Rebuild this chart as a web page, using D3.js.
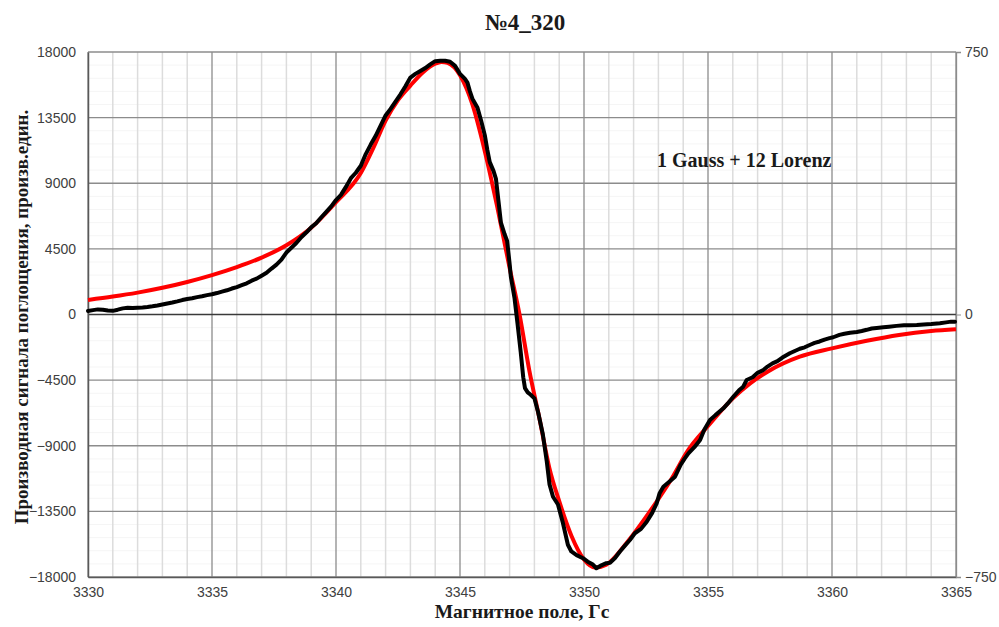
<!DOCTYPE html>
<html>
<head>
<meta charset="utf-8">
<script src="https://cdn.jsdelivr.net/npm/d3@7"></script>
<style>
  html, body { margin: 0; padding: 0; background: #fff; }
  svg { display: block; }
  .tick text { font-family: "Liberation Sans", Arial, sans-serif; font-size: 14px; fill: #404040; }
  .ttl { font-family: "Liberation Serif", "Times New Roman", serif; font-weight: bold; fill: #1a1a1a; }
</style>
</head>
<body>
<svg id="chart" width="999" height="627"></svg>
<script>
// Magnetic field, G — experimental spectrum
const fieldX = [
  3330.0,3330.2,3330.4,3330.6,3330.8,3331.0,3331.2,3331.4,3331.6,3331.8,
  3332.0,3332.2,3332.4,3332.6,3332.8,3333.0,3333.2,3333.4,3333.6,3333.8,
  3334.0,3334.2,3334.4,3334.6,3334.8,3335.0,3335.2,3335.4,3335.6,3335.8,
  3336.0,3336.2,3336.4,3336.6,3336.8,3337.0,3337.2,3337.4,3337.6,3337.8,
  3338.0,3338.2,3338.4,3338.6,3338.8,3339.0,3339.2,3339.4,3339.6,3339.8,
  3340.0,3340.2,3340.4,3340.6,3340.8,3341.0,3341.2,3341.4,3341.6,3341.8,
  3342.0,3342.2,3342.4,3342.6,3342.8,3343.0,3343.2,3343.4,3343.6,3343.8,
  3344.0,3344.2,3344.4,3344.6,3344.8,3345.0,3345.2,3345.3,3345.4,3345.5,
  3345.7,3345.85,3346.0,3346.1,3346.2,3346.35,3346.45,3346.55,3346.65,3346.8,
  3346.9,3347.0,3347.05,3347.2,3347.32,3347.45,3347.55,3347.62,3347.73,3347.85,
  3348.0,3348.15,3348.34,3348.5,3348.61,3348.75,3348.95,3349.15,3349.35,3349.49,
  3349.7,3349.96,3350.15,3350.36,3350.5,3350.7,3350.9,3351.05,3351.25,3351.45,
  3351.65,3351.85,3352.05,3352.3,3352.53,3352.75,3352.93,3353.05,3353.2,3353.45,
  3353.67,3353.9,3354.05,3354.21,3354.45,3354.68,3354.85,3355.08,3355.3,3355.62,
  3355.8,3356.02,3356.25,3356.42,3356.56,3356.8,3357.0,3357.23,3357.4,3357.6,
  3357.8,3358.0,3358.3,3358.5,3358.7,3358.9,3359.1,3359.3,3359.5,3359.7,
  3359.9,3360.05,3360.3,3360.5,3360.73,3361.0,3361.2,3361.4,3361.6,3361.8,
  3362.07,3362.3,3362.6,3362.9,3363.1,3363.42,3363.7,3364.0,3364.35,3364.6,
  3364.8,3364.96
];
// Derivative of absorption signal, arb. units — experimental
const signalY = [
  240,300,350,330,280,250,330,420,460,440,
  470,480,510,560,620,690,760,820,900,990,
  1060,1110,1190,1250,1330,1390,1470,1570,1660,1780,
  1880,2010,2140,2320,2460,2660,2860,3150,3420,3760,
  4250,4580,4900,5300,5620,5980,6260,6650,7020,7400,
  7850,8200,8750,9350,9720,10200,11000,11650,12250,12950,
  13650,14100,14600,15100,15650,16250,16500,16700,16900,17150,
  17370,17400,17400,17330,17050,16500,16150,15900,15300,14800,
  14200,13300,12300,11300,10450,9850,9300,7800,6300,5500,
  5050,3500,2600,1100,-640,-2600,-4300,-5050,-5340,-5500,
  -5750,-6700,-8210,-10100,-11650,-12500,-13030,-14300,-15790,-16250,
  -16500,-16710,-16950,-17150,-17400,-17200,-17050,-17020,-16700,-16250,
  -15850,-15460,-15000,-14700,-14210,-13600,-12950,-12250,-11810,-11450,
  -11120,-10300,-9900,-9520,-9100,-8610,-7900,-7240,-6900,-6430,
  -6100,-5640,-5200,-4950,-4490,-4300,-4000,-3810,-3570,-3350,
  -3200,-2950,-2660,-2500,-2350,-2250,-2090,-1950,-1850,-1720,
  -1620,-1560,-1400,-1320,-1250,-1200,-1130,-1050,-960,-920,
  -880,-840,-780,-740,-740,-720,-680,-650,-600,-540,
  -490,-490
];
// Fit: 1 Gauss + 12 Lorentz lines
const fitX = [
  3330,3331,3332,3333,3334,3335,3336,3337,3338,3339,
  3340,3341,3341.5,3342,3342.5,3343,3343.5,3344,3344.25,3344.5,
  3345,3345.5,3346,3346.5,3347,3347.4,3347.8,3348.2,3348.6,3349,
  3349.5,3350,3350.45,3350.9,3351.7,3352.7,3353.5,3354.2,3355,3356,
  3356.7,3357.4,3358.7,3360,3361.4,3362.7,3364,3365
];
const fitY = [
  1000,1230,1500,1830,2230,2700,3250,3900,4750,5950,
  7700,9700,11400,13300,14700,15700,16600,17200,17320,17250,
  16400,14400,11200,7400,3200,0,-3880,-7100,-10500,-12800,
  -15200,-16800,-17350,-17150,-15700,-13400,-11350,-9300,-7650,-5750,
  -4720,-3920,-2890,-2320,-1800,-1400,-1130,-1010
];

const xTicks = [3330, 3335, 3340, 3345, 3350, 3355, 3360, 3365];
const xMinor = d3.range(3331, 3365).filter(v => v % 5 !== 0);
const yTicks = [-18000, -13500, -9000, -4500, 0, 4500, 9000, 13500, 18000];
const yMinor = d3.range(-18000, 18001, 900).filter(v => v % 4500 !== 0);
const rightTicks = [-750, 0, 750];

const chartTitle = "№4_320";
const xTitle = "Магнитное поле, Гс";
const yTitle = "Производная сигнала поглощения, произв.един.";
const note = "1 Gauss + 12 Lorenz";

const svg = d3.select("#chart");
const L = 88, R = 956, T = 52, B = 577;

const x = d3.scaleLinear().domain([3330, 3365]).range([L, R]);
const y = d3.scaleLinear().domain([-18000, 18000]).range([B, T]);
const y2 = d3.scaleLinear().domain([-750, 750]).range([B, T]);

// grid
const grid = svg.append("g");
grid.selectAll(".hmin").data(yMinor).join("line")
  .attr("x1", L).attr("x2", R).attr("y1", d => y(d)).attr("y2", d => y(d))
  .attr("stroke", "#f5f5f5").attr("stroke-width", 1);
grid.selectAll(".vmin").data(xMinor).join("line")
  .attr("x1", d => x(d)).attr("x2", d => x(d)).attr("y1", T).attr("y2", B)
  .attr("stroke", "#dcdcdc").attr("stroke-width", 1.5);
grid.selectAll(".vmaj").data(xTicks).join("line")
  .attr("x1", d => x(d)).attr("x2", d => x(d)).attr("y1", T).attr("y2", B)
  .attr("stroke", "#8c8c8c").attr("stroke-width", 1.3);
grid.selectAll(".hmaj").data(yTicks).join("line")
  .attr("x1", L).attr("x2", R).attr("y1", d => y(d)).attr("y2", d => y(d))
  .attr("stroke", d => d === 0 ? "#3a3a3a" : "#8c8c8c")
  .attr("stroke-width", 1.3);

// axes
const axL = svg.append("g").attr("transform", `translate(${L},0)`)
  .call(d3.axisLeft(y).tickValues(yTicks).tickSize(0).tickPadding(12).tickFormat(d3.format("d")));
axL.select(".domain").attr("stroke", "#595959").attr("stroke-width", 1.5);

const axB = svg.append("g").attr("transform", `translate(0,${B})`)
  .call(d3.axisBottom(x).tickValues(xTicks).tickSize(0).tickPadding(10).tickFormat(d3.format("d")));
axB.select(".domain").attr("stroke", "#595959").attr("stroke-width", 1.5);

const axR = svg.append("g").attr("transform", `translate(${R},0)`)
  .call(d3.axisRight(y2).tickValues(rightTicks).tickSize(5).tickPadding(4).tickFormat(d3.format("d")));
axR.select(".domain").attr("stroke", "#8c8c8c").attr("stroke-width", 1.3);
axR.selectAll(".tick line").attr("stroke", "#8c8c8c");

// curves
const fit = fitX.map((v, i) => [v, fitY[i]]);
const sig = fieldX.map((v, i) => [v, signalY[i]]);

svg.append("path").datum(fit)
  .attr("fill", "none").attr("stroke", "#ff0000").attr("stroke-width", 4)
  .attr("stroke-linejoin", "round")
  .attr("d", d3.line().x(d => x(d[0])).y(d => y(d[1])).curve(d3.curveMonotoneX));

svg.append("path").datum(sig)
  .attr("fill", "none").attr("stroke", "#000").attr("stroke-width", 4)
  .attr("stroke-linejoin", "round").attr("stroke-linecap", "round")
  .attr("d", d3.line().x(d => x(d[0])).y(d => y(d[1])));

// titles
svg.append("text").attr("class", "ttl").attr("x", 525).attr("y", 30)
  .attr("text-anchor", "middle").attr("font-size", 23).text(chartTitle);
svg.append("text").attr("class", "ttl").attr("x", 522).attr("y", 618)
  .attr("text-anchor", "middle").attr("font-size", 19.5).text(xTitle);
svg.append("text").attr("class", "ttl")
  .attr("transform", `translate(28,317) rotate(-90)`)
  .attr("text-anchor", "middle").attr("font-size", 19).text(yTitle);
svg.append("text").attr("class", "ttl").attr("x", 657).attr("y", 167)
  .attr("font-size", 20).text(note);
</script>
</body>
</html>
